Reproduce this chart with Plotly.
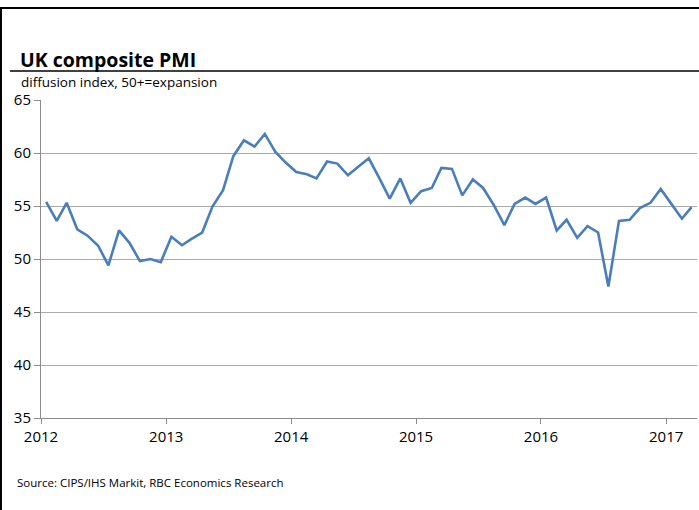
import pandas as pd
import plotly.graph_objects as go

# Monthly UK composite PMI, Jan 2012 - Mar 2017
start_month = "2012-01-01"
pmi_values = [
    55.4, 53.6, 55.3, 52.8, 52.2, 51.25, 49.4, 52.7, 51.5, 49.8, 50.0, 49.7,   # 2012
    52.1, 51.3, 51.9, 52.5, 54.95, 56.5, 59.7, 61.2, 60.6, 61.8, 60.1, 59.1,  # 2013
    58.2, 58.0, 57.6, 59.2, 59.0, 57.9, 58.7, 59.5, 57.6, 55.7, 57.6, 55.3,   # 2014
    56.4, 56.7, 58.6, 58.5, 56.0, 57.5, 56.7, 55.1, 53.2, 55.2, 55.8, 55.2,   # 2015
    55.8, 52.7, 53.7, 52.0, 53.1, 52.5, 47.4, 53.6, 53.7, 54.8, 55.3, 56.6,   # 2016
    55.2, 53.8, 54.9,                                                         # 2017
]
year_ticks = ["2012", "2013", "2014", "2015", "2016", "2017"]
y_ticks = [35, 40, 45, 50, 55, 60, 65]

dates = pd.date_range(start_month, periods=len(pmi_values), freq="MS") + pd.Timedelta(days=15)
tickvals = [pd.Timestamp(f"{y}-01-01") for y in year_ticks]

FONT = "Open Sans"
fig = go.Figure()
fig.add_trace(go.Scatter(
    x=dates, y=pmi_values, mode="lines",
    line=dict(color="#4A7EBB", width=2.6),
    hoverinfo="skip", showlegend=False,
))

fig.update_layout(
    width=699, height=510,
    margin=dict(l=41, r=2, t=100, b=92),
    paper_bgcolor="white", plot_bgcolor="white",
    font=dict(family=FONT, size=13, color="black"),
    xaxis=dict(
        range=[pd.Timestamp("2012-01-01"), pd.Timestamp("2017-04-01")],
        tickvals=tickvals, ticktext=year_ticks,
        showgrid=False, showline=True, linecolor="#8c8c8c", linewidth=1,
        ticks="outside", ticklen=5, tickcolor="#8c8c8c",
        tickfont=dict(size=15), zeroline=False,
    ),
    yaxis=dict(
        range=[35, 65], tickvals=y_ticks,
        showgrid=True, gridcolor="#ababab", gridwidth=1,
        showline=True, linecolor="#8c8c8c", linewidth=1,
        ticks="outside", ticklen=6, tickcolor="#8c8c8c",
        tickfont=dict(size=15), zeroline=False,
    ),
    annotations=[
        dict(text="<b>UK composite PMI</b>", xref="paper", yref="paper",
             x=-0.035, y=1.128, xanchor="left", yanchor="middle",
             showarrow=False, font=dict(size=19.5, family=FONT, color="black")),
        dict(text="diffusion index, 50+=expansion", xref="paper", yref="paper",
             x=-0.033, y=1.058, xanchor="left", yanchor="middle",
             showarrow=False, font=dict(size=13.5, family=FONT, color="black")),
        dict(text="Source: CIPS/IHS Markit, RBC Economics Research", xref="paper", yref="paper",
             x=-0.039, y=-0.204, xanchor="left", yanchor="middle",
             showarrow=False, font=dict(size=11.5, family=FONT, color="black")),
    ],
    shapes=[
        # title underline
        dict(type="line", xref="paper", yref="paper", x0=-0.0473, x1=1.01,
             y0=1.0912, y1=1.0912, line=dict(color="black", width=1.5)),
        # outer frame: top and left
        dict(type="line", xref="paper", yref="paper", x0=-0.0625, x1=1.01,
             y0=1.289, y1=1.289, line=dict(color="black", width=2)),
        dict(type="line", xref="paper", yref="paper", x0=-0.0610, x1=-0.0610,
             y0=1.289, y1=-0.3, line=dict(color="black", width=2)),
    ],
)

fig.write_html("out.html")
